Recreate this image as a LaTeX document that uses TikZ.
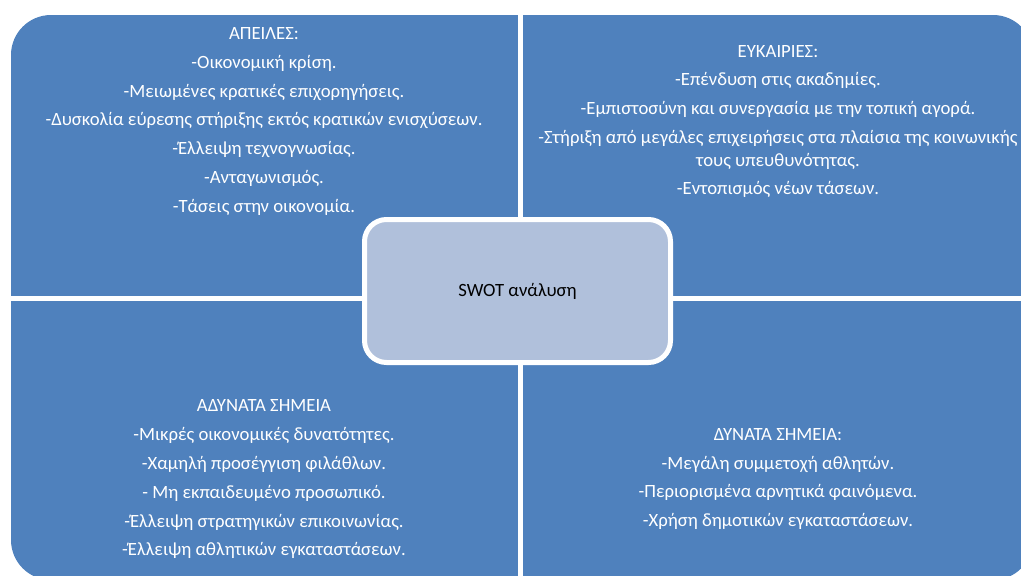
\documentclass[tikz,border=0pt]{standalone}
\usepackage{fontspec}
\setmainfont{Carlito}
\begin{document}
\begin{tikzpicture}[x=1pt,y=-1pt,
  quadfill/.style={fill=quadblue},
  quadtext/.style={text=white,font=\fontsize{18.7}{22.5}\selectfont,align=center,inner sep=0pt},
  centerbox/.style={fill=centerblue,draw=white,line width=5pt,rounded corners=22pt}]
\definecolor{quadblue}{HTML}{4F81BD}
\definecolor{centerblue}{HTML}{B0C0DB}
\useasboundingbox (0,0) rectangle (1021,576);
\begin{scope}
  \clip (0,0) rectangle (1021,576);
  % four quadrants as one rounded block split by white gaps
  \fill[quadfill,rounded corners=40pt] (11,15) rectangle (1033,580);
  \fill[white] (518,0) rectangle (523,590);
  \fill[white] (0,296) rectangle (1040,301);
\end{scope}
% threats
\node[quadtext] (threats) at (264,121.5) {ΑΠΕΙΛΕΣ:\\[6.3pt]
  -Οικονομική κρίση.\\[6.3pt]
  -Μειωμένες κρατικές επιχορηγήσεις.\\[6.3pt]
  -Δυσκολία εύρεσης στήριξης εκτός κρατικών ενισχύσεων.\\[6.3pt]
  -Έλλειψη τεχνογνωσίας.\\[6.3pt]
  -Ανταγωνισμός.\\[6.3pt]
  -Τάσεις στην οικονομία.};
% opportunities
\node[quadtext] (opps) at (778,121.5) {ΕΥΚΑΙΡΙΕΣ:\\[6.3pt]
  -Επένδυση στις ακαδημίες.\\[6.3pt]
  -Εμπιστοσύνη και συνεργασία με την τοπική αγορά.\\[6.3pt]
  -Στήριξη από μεγάλες επιχειρήσεις στα πλαίσια της κοινωνικής\\
  τους υπευθυνότητας.\\[6.3pt]
  -Εντοπισμός νέων τάσεων.};
% weaknesses
\node[quadtext] (weak) at (264,479.5) {ΑΔΥΝΑΤΑ ΣΗΜΕΙΑ\\[6.3pt]
  -Μικρές οικονομικές δυνατότητες.\\[6.3pt]
  -Χαμηλή προσέγγιση φιλάθλων.\\[6.3pt]
  - Μη εκπαιδευμένο προσωπικό.\\[6.3pt]
  -Έλλειψη στρατηγικών επικοινωνίας.\\[6.3pt]
  -Έλλειψη αθλητικών εγκαταστάσεων.};
% strengths
\node[quadtext] (strong) at (778,479) {ΔΥΝΑΤΑ ΣΗΜΕΙΑ:\\[6.3pt]
  -Μεγάλη συμμετοχή αθλητών.\\[6.3pt]
  -Περιορισμένα αρνητικά φαινόμενα.\\[6.3pt]
  -Χρήση δημοτικών εγκαταστάσεων.};
% centre
\node[centerbox,minimum width=306pt,minimum height=143pt,font=\fontsize{18.7}{22}\selectfont] (swot) at (517.5,291) {SWOT ανάλυση};
\end{tikzpicture}
\end{document}
